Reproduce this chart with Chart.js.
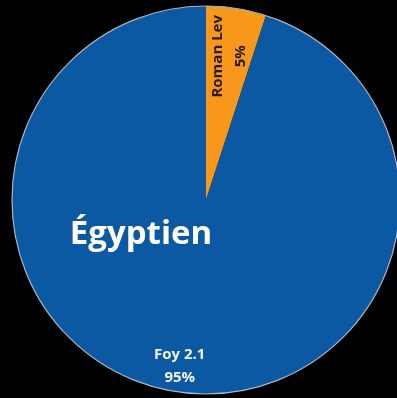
<!DOCTYPE html>
<html>
<head>
<meta charset="utf-8">
<script src="https://cdn.jsdelivr.net/npm/chart.js@4/dist/chart.umd.min.js"></script>
<style>
  html, body { margin: 0; padding: 0; background: #000; overflow: hidden; }
  body { width: 397px; height: 398px; position: relative; }
  #wrap { position: absolute; left: 0; top: 0; width: 412px; height: 400px; }
</style>
</head>
<body>
<div id="wrap"><canvas id="pie"></canvas></div>
<script>
  var categories = ['Roman Lev', 'Foy 2.1'];
  var shares = [5, 95];
  var sliceColors = ['#f7981d', '#0a59a2'];
  var groupTitle = 'Égyptien';

  var labelPlugin = {
    id: 'sliceLabels',
    afterDatasetsDraw: function (chart) {
      var ctx = chart.ctx;
      var arcs = chart.getDatasetMeta(0).data;
      var fractions = [0.75, 0.865];
      var font = '"Open Sans", "Liberation Sans", sans-serif';

      // thin pale rim around the whole pie
      var a0 = arcs[0];
      ctx.save();
      ctx.beginPath();
      ctx.arc(a0.x, a0.y, a0.outerRadius, 0, Math.PI * 2);
      ctx.strokeStyle = '#a9b6c4';
      ctx.lineWidth = 1.2;
      ctx.stroke();
      ctx.restore();

      arcs.forEach(function (arc, i) {
        var mid = (arc.startAngle + arc.endAngle) / 2;
        var r = arc.outerRadius * fractions[i];
        var x = arc.x + Math.cos(mid) * r;
        var y = arc.y + Math.sin(mid) * r;
        ctx.save();
        ctx.translate(x, y);
        ctx.textAlign = 'center';
        ctx.textBaseline = 'middle';
        ctx.font = 'bold 15px ' + font;
        if (i === 0) {
          ctx.rotate(-Math.PI / 2);
          ctx.fillStyle = '#2a1a08';
          ctx.fillText(categories[i], 0, -11);
          ctx.fillText(shares[i] + '%', 0, 12);
        } else {
          ctx.fillStyle = '#f2f4f8';
          ctx.fillText(categories[i], 0, -11);
          ctx.fillText(shares[i] + '%', 0, 12);
        }
        ctx.restore();
      });

      ctx.save();
      ctx.font = 'bold 33px ' + font;
      ctx.fillStyle = '#ffffff';
      ctx.textAlign = 'center';
      ctx.textBaseline = 'alphabetic';
      ctx.fillText(groupTitle, 141, 244);
      ctx.restore();
    }
  };

  new Chart(document.getElementById('pie'), {
    type: 'pie',
    data: {
      labels: categories,
      datasets: [{
        data: shares,
        backgroundColor: sliceColors,
        borderWidth: 0
      }]
    },
    options: {
      responsive: true,
      maintainAspectRatio: false,
      animation: false,
      layout: { padding: 6 },
      plugins: {
        legend: { display: false },
        tooltip: { enabled: false }
      }
    },
    plugins: [labelPlugin]
  });
</script>
</body>
</html>
